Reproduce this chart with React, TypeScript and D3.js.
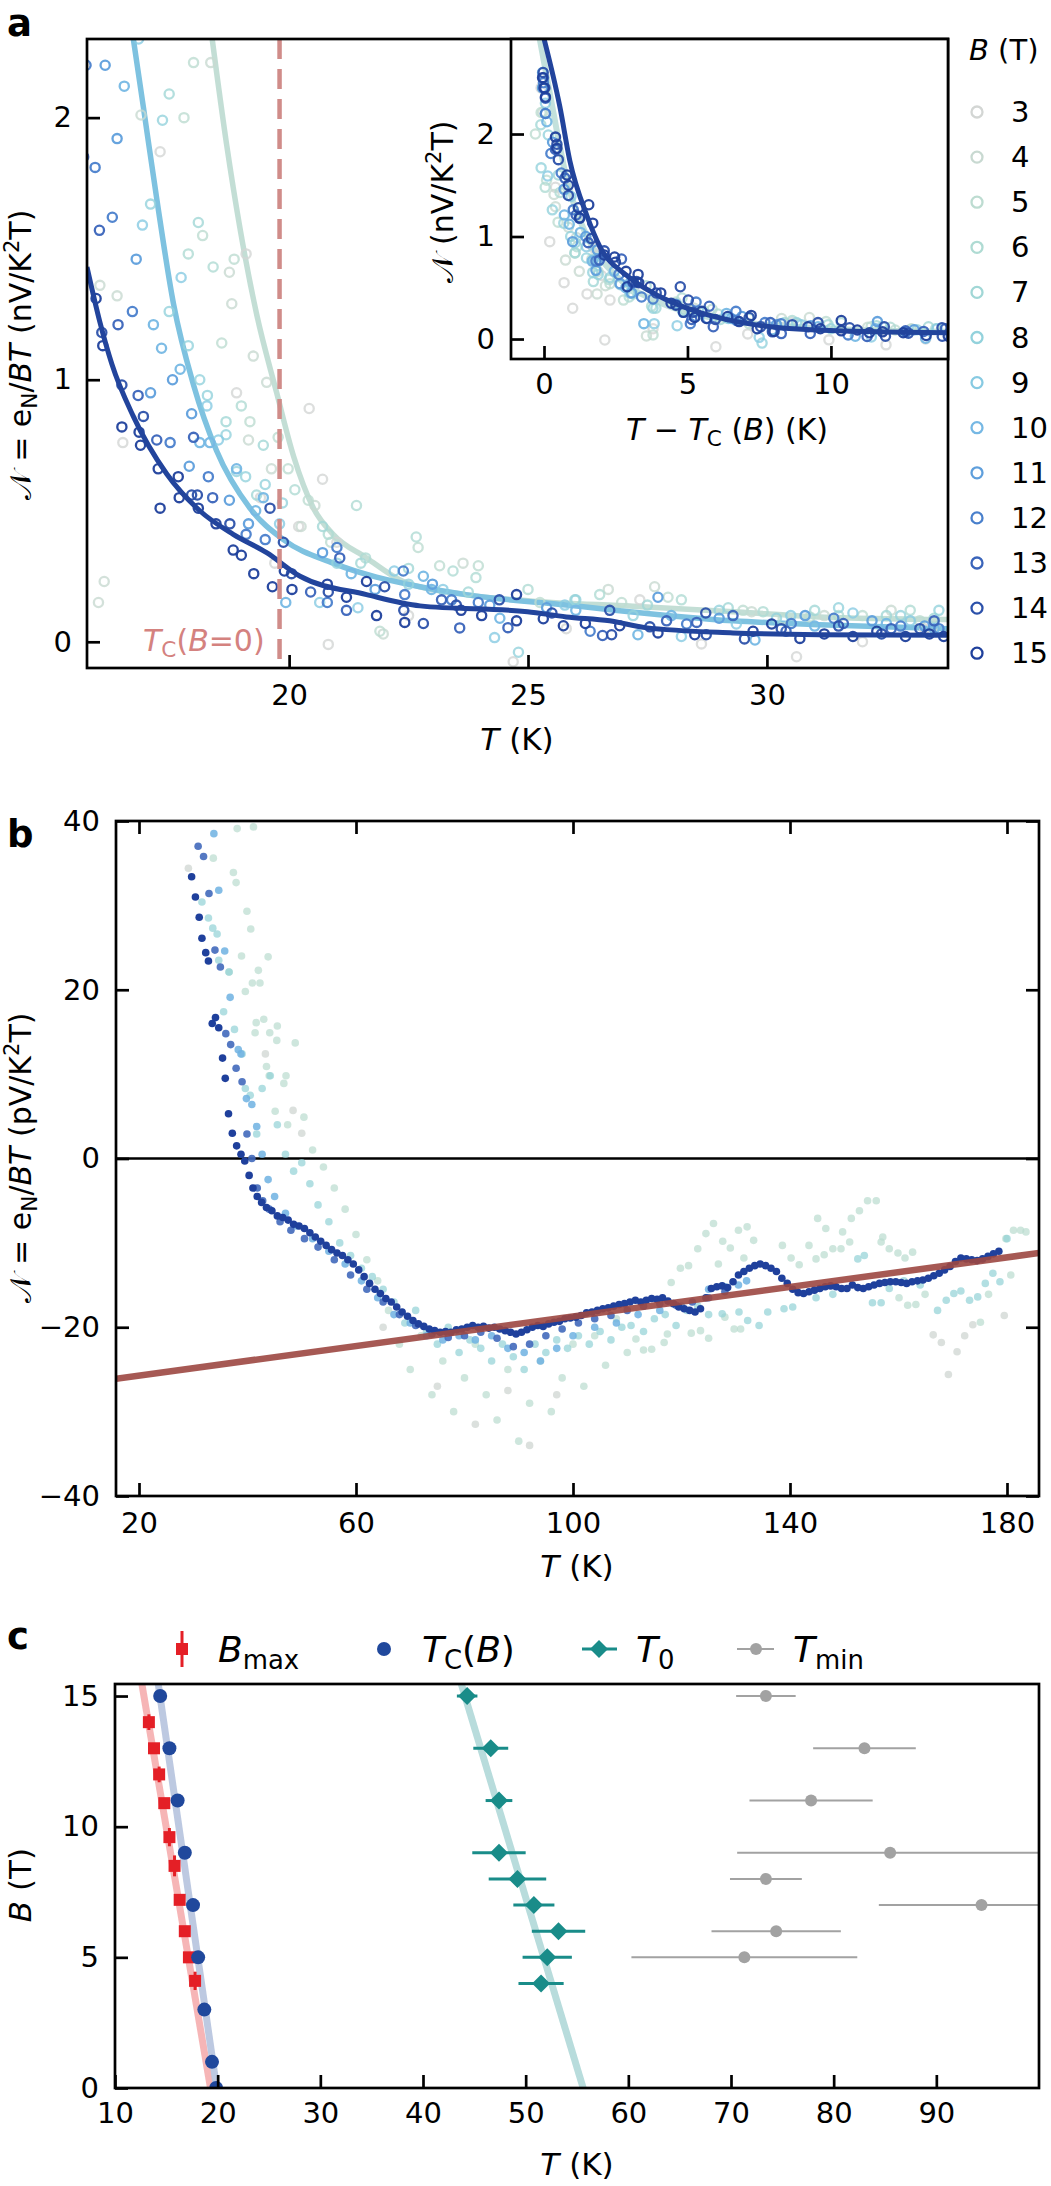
import React, { useEffect, useRef } from "react";
import * as d3 from "d3";

const FONT = "DejaVu Sans, sans-serif";

// ---------- panel a : field values, colours, Tc(B) ----------
const fields = [3, 4, 5, 6, 7, 8, 9, 10, 11, 12, 13, 14, 15];
const fieldColors = [
  "#d3d6d4", "#c8d9d1", "#bddcd1", "#afdbd3", "#a1d7d6", "#93d2dc", "#87cae2",
  "#76b8e4", "#5f9fdc", "#4a80cc", "#3a64ba", "#2c51aa", "#1f409c",
];
const tcByField = [18.7, 18.4, 18.1, 17.85, 17.6, 17.2, 16.8, 16.45, 16.1, 15.7, 15.3, 14.85, 14.4];

type P = [number, number];

const aF3: P[] = [[16.52,0.76],[17.3,1.87],[18.6,2.45],[18.9,0.95],[19.1,1.48],[19.4,0.55],[19.7,0.3],[20.2,0.44],[20.42,0.89],[20.7,0.62],[20.82,-0.01],[21.0,0.38],[22.5,0.1],[24.69,-0.076],[25.8,0.05],[27.34,0.16],[28.63,-0.008],[30.62,-0.057],[32.0,0.0],[33.3,0.05]];
const aF4: P[] = [[16.01,0.15],[16.04,1.36],[16.13,0.23],[16.4,1.32],[16.9,2.01],[18.36,2.21],[18.75,1.41],[18.8,1.29],[19.15,0.77],[19.25,1.09],[19.53,0.99],[19.63,0.66],[20.25,0.44],[20.54,0.52],[21.97,0.03],[23.64,0.3],[26.68,0.2],[27.65,0.21],[29.68,0.115],[31.2,0.1],[32.6,0.12],[33.5,0.06]];
const aF5: P[] = [[17.8,2.0],[18.0,2.21],[18.19,1.55],[18.59,1.14],[18.85,1.46],[19.18,0.84],[19.77,0.78],[19.98,0.66],[20.4,0.54],[20.87,0.38],[21.9,0.04],[22.7,0.36],[23.15,0.29],[23.96,0.29],[25.25,0.15],[26.96,0.15],[27.93,0.17],[29.5,0.12],[30.34,0.088],[30.9,0.095],[32.0,0.1],[33.2,0.08]];
const aF6: P[] = [[17.89,1.48],[18.41,1.43],[19.0,0.9],[20.12,0.58],[20.82,0.41],[21.41,0.52],[21.6,0.32],[22.66,0.4],[23.43,0.27],[23.91,0.245],[25.0,0.2],[26.5,0.18],[28.21,0.16],[29.92,0.115],[31.5,0.1],[33.0,0.12]];
const aF7: P[] = [[17.49,2.09],[18.1,1.6],[18.68,0.84],[19.32,0.56],[19.46,0.75],[20.7,0.44],[21.5,0.3],[22.5,0.28],[23.75,0.19],[25.98,0.16],[27.5,0.14],[29.19,0.13],[31.0,0.12],[32.5,0.1],[33.5,0.09]];
const aF8: P[] = [[17.1,1.67],[17.35,1.99],[17.49,1.26],[17.89,1.13],[18.13,1.0],[18.29,0.94],[18.68,0.79],[18.9,0.65],[19.09,0.63],[19.5,0.6],[19.86,0.53],[21.0,0.3],[22.5,0.22],[24.8,-0.04],[26.0,0.16],[27.2,0.1],[29.0,0.12],[30.2,0.09],[31.5,0.13],[32.8,0.1],[33.6,0.12]];
const aF9: P[] = [[16.85,2.3],[16.93,1.59],[17.74,1.39],[18.28,0.9],[18.52,0.77],[19.8,0.45],[20.64,0.15],[21.44,0.13],[22.2,0.27],[23.22,0.2],[24.3,0.016],[25.77,0.14],[28.21,0.02],[29.36,0.068],[30.5,0.1],[31.8,0.11],[33.0,0.08]];
const aF10: P[] = [[16.4,2.6],[16.55,2.12],[17.16,1.21],[17.33,1.12],[17.72,1.04],[18.13,0.76],[18.34,0.76],[18.9,0.66],[19.3,0.5],[19.46,0.55],[19.93,0.15],[21.3,0.26],[22.81,0.25],[22.98,0.2],[24.41,0.09],[26.0,0.12],[27.3,0.027],[28.0,0.1],[29.75,0.007],[31.0,0.06],[32.5,0.07],[33.5,0.05]];
const aF11: P[] = [[16.05,2.45],[16.15,2.2],[16.4,1.92],[16.8,1.46],[17.1,0.95],[17.56,1.0],[17.91,0.67],[17.96,0.87],[18.75,0.54],[19.15,0.45],[20.7,0.34],[21.8,0.2],[23.0,0.22],[24.2,0.14],[25.39,0.13],[27.72,0.17],[29.0,0.09],[30.8,0.1],[32.2,0.08],[33.3,0.06]];
const aF12: P[] = [[15.68,2.5],[15.75,2.2],[15.94,1.81],[16.3,1.62],[16.72,1.26],[17.51,0.76],[18.31,0.63],[19.1,0.41],[19.5,0.39],[20.8,0.15],[21.0,0.36],[22.39,0.27],[22.42,0.18],[23.4,0.16],[23.96,0.15],[26.3,0.04],[28.32,0.068],[30.51,0.07],[31.4,0.09],[32.8,0.06],[33.6,0.05]];
const aF13: P[] = [[15.28,2.55],[15.35,2.35],[15.7,1.85],[16.03,1.57],[16.42,1.21],[16.84,0.94],[17.23,0.77],[18.0,0.78],[18.4,0.55],[20.45,0.19],[21.06,0.32],[21.2,0.12],[23.19,0.16],[23.57,0.053],[24.58,0.054],[26.56,0.024],[27.9,0.08],[28.53,0.074],[29.29,0.1],[30.4,0.04],[31.6,0.07],[32.6,0.05],[33.5,0.08]];
const aF14: P[] = [[14.82,2.6],[14.88,2.45],[15.3,1.9],[15.35,1.75],[15.7,1.4],[16.08,1.18],[16.5,0.98],[16.95,0.86],[17.96,0.56],[18.08,0.56],[18.76,0.45],[19.6,0.51],[19.88,0.38],[20.05,0.26],[20.82,0.19],[22.0,0.21],[22.4,0.12],[22.81,0.07],[23.5,0.14],[24.4,0.16],[25.5,0.11],[26.71,0.12],[26.75,0.027],[27.55,0.057],[28.72,0.11],[28.73,0.027],[29.53,0.011],[30.3,0.05],[31.5,0.06],[32.4,0.03],[33.2,0.05]];
const aF15: P[] = [[14.35,2.55],[14.4,2.45],[14.45,2.36],[14.8,1.97],[14.85,1.86],[15.2,1.6],[15.25,1.5],[15.6,1.28],[15.65,1.18],[15.96,1.31],[16.1,1.13],[16.5,0.82],[16.86,0.8],[16.89,0.75],[17.26,0.66],[17.3,0.51],[17.68,0.63],[17.7,0.55],[18.1,0.51],[18.47,0.45],[18.83,0.35],[19.0,0.33],[19.26,0.26],[19.65,0.21],[19.9,0.27],[20.06,0.2],[20.8,0.22],[21.2,0.17],[21.62,0.23],[21.83,0.1],[22.42,0.074],[23.6,0.12],[24.03,0.1],[24.76,0.08],[24.76,0.18],[25.32,0.088],[25.74,0.061],[26.2,0.07],[26.92,0.061],[27.72,0.034],[28.49,0.027],[29.71,0.04],[30.1,0.068],[30.69,0.013],[31.2,0.03],[31.8,0.02],[32.3,0.04],[32.9,0.02],[33.4,0.03],[33.7,0.02]];
const aSeries = [aF3, aF4, aF5, aF6, aF7, aF8, aF9, aF10, aF11, aF12, aF13, aF14, aF15];

// fitted curves, panel a
const aFit5: P[] = [[18.39,2.3],[18.69,1.9],[18.97,1.58],[19.32,1.25],[19.74,0.95],[20.09,0.71],[20.51,0.51],[20.92,0.41],[21.62,0.32],[22.39,0.23],[23.7,0.18],[25.1,0.155],[27.2,0.136],[29.3,0.115],[31.1,0.095],[33.8,0.085]];
const aFit10: P[] = [[16.74,2.3],[16.95,2.04],[17.23,1.69],[17.58,1.29],[18.0,0.98],[18.48,0.73],[19.18,0.51],[19.88,0.39],[20.92,0.3],[22.74,0.21],[23.7,0.18],[25.8,0.14],[29.3,0.08],[31.1,0.065],[33.8,0.05]];
const aFit15: P[] = [[15.77,1.43],[16.04,1.22],[16.29,1.06],[16.74,0.86],[17.44,0.64],[18.13,0.5],[18.83,0.41],[19.53,0.34],[20.23,0.25],[21.62,0.18],[22.74,0.137],[24.99,0.115],[25.8,0.095],[26.71,0.08],[27.45,0.054],[29.29,0.034],[31.1,0.027],[33.8,0.025]];
const insetFit15: P[] = [[0.0,2.93],[0.55,2.27],[0.9,1.74],[1.5,1.2],[1.95,0.9],[2.88,0.62],[4.0,0.42],[5.2,0.28],[6.9,0.16],[9.3,0.09],[14.1,0.06]];
const insetFitPale: P[] = [[-0.15,2.93],[0.3,2.25],[0.8,1.55],[1.5,1.0],[2.5,0.62],[4.0,0.36],[6.0,0.2],[10.0,0.1],[14.1,0.07]];
const tcZeroField = 19.8;

// ---------- panel b ----------
const b3: P[] = [[29.1,34.4],[43.3,12.4],[48.4,5.7],[50.0,3.0],[65.0,-20.0],[75.0,-27.0],[82.0,-31.5],[88.0,-27.5],[92.0,-34.0],[97.0,-28.0],[166.4,-20.9],[167.9,-21.8],[169.2,-25.6],[170.8,-22.9],[172.2,-21.0],[173.7,-19.7],[179.5,-18.6]];
const b6: P[] = [[33.7,35.6],[37.4,33.9],[37.9,32.7],[38.1,39.1],[39.9,29.3],[40.6,27.2],[38.9,24.0],[43.8,23.9],[36.6,22.1],[42.0,22.3],[39.6,19.8],[40.9,20.8],[42.3,20.8],[41.6,16.1],[43.0,16.5],[45.5,15.7],[48.8,13.7],[41.4,14.9],[44.1,14.9],[45.4,14.0],[43.5,10.9],[44.0,9.8],[47.1,9.8],[46.7,8.9],[45.1,5.6],[50.4,4.9],[47.4,4.0],[41.1,39.3],[52.0,1.0],[54.0,-1.0],[56.0,-3.5],[58.0,-6.0],[60.0,-9.0],[62.0,-12.0],[64.0,-14.5],[66.0,-18.0],[68.0,-22.0],[70.0,-25.0],[72.0,-21.0],[74.0,-28.0],[76.0,-24.0],[78.0,-30.0],[80.0,-26.0],[82.0,-22.0],[84.0,-28.0],[86.0,-31.0],[88.0,-25.0],[90.0,-33.5],[92.0,-29.0],[94.0,-24.0],[96.0,-30.0],[98.0,-26.0],[100.0,-22.0],[102.0,-27.0],[104.0,-21.0],[106.0,-24.5],[108.0,-19.0],[110.0,-23.0],[111.6,-21.4],[113.0,-22.7],[114.5,-22.6],[116.8,-21.8],[117.4,-20.8],[118.1,-14.7],[119.8,-13.0],[121.3,-12.7],[121.8,-20.7],[123.0,-10.7],[123.5,-20.4],[124.5,-8.9],[125.0,-21.3],[125.9,-7.7],[126.8,-12.5],[127.6,-9.8],[128.0,-18.8],[129.0,-10.6],[129.7,-20.2],[130.5,-8.5],[130.9,-20.2],[131.5,-11.8],[132.1,-8.1],[133.3,-9.7],[138.6,-10.3],[140.2,-11.8],[141.7,-12.6],[143.5,-10.3],[144.8,-11.9],[145.1,-7.1],[146.3,-11.4],[146.6,-8.3],[147.9,-10.7],[149.4,-10.7],[149.7,-8.7],[151.0,-9.9],[151.3,-7.1],[152.8,-6.2],[154.3,-5.0],[155.9,-5.0],[156.8,-9.9],[157.1,-9.3],[158.3,-10.7],[159.9,-11.2],[160.1,-16.5],[161.2,-11.8],[161.7,-17.4],[162.6,-11.1],[163.2,-17.3],[164.9,-16.1],[175.1,-19.4],[176.6,-16.1],[179.8,-9.5],[180.7,-13.8],[181.2,-8.5],[182.5,-8.5],[183.5,-8.7]];
const b8: P[] = [[31.6,30.4],[32.8,28.5],[33.6,27.3],[34.4,26.6],[34.7,23.5],[35.6,17.4],[36.6,22.1],[37.6,15.3],[39.0,12.4],[39.6,8.3],[40.5,7.5],[41.7,2.9],[42.7,8.3],[44.2,9.8],[45.5,4.0],[47.0,0.5],[48.5,-1.5],[50.0,-0.5],[51.5,-3.0],[53.0,-5.5],[55.0,-7.5],[57.0,-10.0],[59.0,-11.5],[61.0,-13.0],[63.0,-14.0],[65.0,-15.5],[67.0,-17.0],[69.0,-19.5],[71.0,-18.0],[73.0,-20.5],[75.0,-22.0],[77.0,-20.0],[79.0,-23.0],[81.0,-21.5],[83.0,-22.5],[85.0,-24.0],[87.0,-22.0],[89.0,-23.5],[91.0,-25.0],[93.0,-22.0],[95.0,-23.0],[97.0,-21.5],[99.0,-22.5],[101.0,-21.0],[103.0,-22.0],[105.0,-20.5],[107.0,-21.5],[109.0,-20.0],[110.7,-19.8],[113.0,-20.5],[115.0,-19.0],[117.0,-18.5],[119.0,-19.8],[121.0,-18.0],[123.0,-17.5],[125.0,-18.5],[127.5,-18.4],[130.6,-18.2],[132.2,-19.2],[134.3,-19.8],[135.9,-18.2],[138.9,-17.8],[140.5,-17.6],[144.8,-16.5],[147.9,-16.1],[152.5,-11.9],[153.7,-11.5],[155.2,-17.1],[156.8,-17.1],[158.3,-15.4],[161.0,-14.5],[164.0,-15.0],[167.2,-18.0],[168.8,-16.8],[170.2,-16.0],[171.5,-15.7],[173.1,-16.8],[174.6,-16.4],[176.0,-14.8],[177.4,-13.6],[178.7,-14.6],[180.0,-9.5]];
const b10: P[] = [[33.8,38.5],[34.7,31.8],[35.8,24.6],[36.8,19.1],[38.3,12.9],[38.8,12.4],[39.8,7.1],[40.8,6.4],[41.7,3.8],[42.7,0.5],[43.8,-2.5],[45.0,-4.5],[47.0,-6.5],[49.0,-8.0],[52.0,-9.5],[55.0,-11.0],[58.0,-12.5],[61.0,-14.5],[64.0,-16.5],[67.0,-18.5],[70.0,-19.5],[73.0,-21.0],[76.0,-21.5],[79.0,-21.0],[82.0,-21.5],[85.0,-21.0],[88.0,-22.5],[91.0,-23.0],[94.0,-24.0],[97.0,-22.5],[100.0,-21.0],[104.0,-20.0],[108.0,-19.5],[112.0,-18.5],[116.0,-18.0],[120.0,-17.5],[125.0,-15.5],[128.0,-15.2],[130.5,-15.0],[132.0,-14.5]];
const b13: P[] = [[30.9,37.0],[31.9,35.8],[32.9,31.4],[34.0,24.7],[35.0,22.7],[36.0,14.8],[36.9,13.5],[37.9,10.7],[39.0,9.1],[39.9,2.9],[40.8,0.0],[41.8,-3.5],[42.8,-5.0],[44.0,-6.0],[46.0,-7.5],[48.0,-8.5],[50.5,-9.5],[53.0,-10.5],[56.0,-12.0],[59.0,-13.8],[62.0,-15.5],[65.0,-17.0],[68.0,-18.5],[71.0,-19.8],[74.0,-20.8],[77.0,-21.2],[80.0,-21.0],[83.0,-20.6],[86.0,-21.3],[89.0,-22.3],[92.0,-22.0],[95.0,-21.0],[98.0,-20.2],[101.0,-19.5],[104.0,-19.0],[107.0,-18.6],[110.0,-18.0],[113.0,-17.5],[116.0,-17.2],[119.0,-17.4],[122.0,-17.0],[125.0,-16.5],[128.0,-15.8]];
const b15: P[] = [[29.7,33.4],[30.4,31.0],[31.1,28.6],[31.6,26.1],[32.3,24.4],[32.8,23.4],[33.5,16.0],[34.1,16.7],[34.7,15.5],[35.4,11.9],[35.9,9.5],[36.5,5.3],[37.2,3.0],[38.0,1.5],[38.8,0.5],[39.5,-0.3],[40.3,-2.0],[41.0,-3.5],[41.8,-4.5],[42.6,-5.2],[43.5,-5.8],[44.5,-6.2],[45.5,-6.8],[46.5,-7.0],[47.5,-7.3],[48.5,-7.8],[49.5,-8.0],[50.5,-8.3],[51.5,-8.8],[52.5,-9.3],[53.5,-9.8],[54.5,-10.3],[55.5,-10.8],[56.5,-11.2],[57.5,-11.5],[58.5,-12.0],[59.5,-12.5],[60.5,-13.2],[61.5,-14.0],[62.5,-14.8],[63.5,-15.5],[64.5,-16.0],[65.5,-16.6],[66.5,-17.0],[67.5,-17.6],[68.5,-18.2],[69.5,-18.7],[70.5,-19.2],[71.5,-19.6],[72.5,-19.9],[73.5,-20.2],[74.5,-20.4],[75.5,-20.6],[76.5,-20.5],[77.5,-20.6],[78.5,-20.3],[79.5,-20.2],[80.5,-20.0],[81.5,-19.8],[82.5,-20.0],[83.5,-19.9],[84.5,-20.1],[85.5,-20.0],[86.5,-20.2],[87.5,-20.4],[88.5,-20.6],[89.5,-20.8],[90.5,-20.6],[91.5,-20.3],[92.5,-20.0],[93.5,-19.8],[94.5,-19.9],[95.5,-19.6],[96.5,-19.4],[97.5,-19.3],[98.5,-19.0],[99.5,-18.9],[100.5,-18.8],[101.5,-18.6],[102.5,-18.3],[103.5,-18.2],[104.5,-18.0],[105.5,-17.8],[106.5,-17.7],[107.5,-17.5],[108.5,-17.3],[109.5,-17.2],[110.5,-17.0],[111.5,-16.8],[112.5,-17.0],[113.5,-16.8],[114.5,-16.6],[115.5,-16.7],[116.5,-16.5],[117.5,-16.9],[118.5,-17.2],[119.5,-17.6],[120.5,-17.8],[121.5,-18.0],[122.5,-18.2],[123.5,-17.8],[124.5,-16.5],[125.5,-15.4],[126.5,-15.2],[127.5,-15.1],[128.5,-15.3],[129.5,-14.6],[130.5,-13.8],[131.5,-13.4],[132.5,-13.0],[133.5,-12.7],[134.5,-12.5],[135.5,-12.7],[136.5,-13.0],[137.5,-13.4],[138.5,-14.2],[139.5,-14.8],[140.5,-15.5],[141.5,-15.9],[142.5,-16.0],[143.5,-15.8],[144.5,-15.6],[145.5,-15.4],[146.5,-15.2],[147.5,-15.1],[148.5,-15.2],[149.5,-15.4],[150.5,-15.4],[151.5,-15.0],[152.5,-15.3],[153.5,-15.4],[154.5,-15.2],[155.5,-15.0],[156.5,-14.8],[157.5,-14.7],[158.5,-14.6],[159.5,-14.6],[160.5,-14.7],[161.5,-14.8],[162.5,-14.6],[163.5,-14.5],[164.5,-14.4],[165.5,-14.2],[166.5,-13.9],[167.5,-13.6],[168.5,-13.2],[169.5,-12.8],[170.5,-12.2],[171.5,-11.8],[172.5,-11.9],[173.5,-12.0],[174.5,-12.1],[175.5,-11.9],[176.5,-11.6],[177.5,-11.3],[178.5,-11.0]];
const bSeries = [b3, b6, b8, b10, b13, b15];
const bColors = ["#cfd5d1", "#b9dccf", "#92d1d6", "#6fb2e2", "#4169bb", "#1f409c"];
const bOpacity = [0.75, 0.7, 0.7, 0.85, 0.9, 1];
const bBackground: P[] = [[15.76, -26.1], [185.9, -11.2]];

// ---------- panel c ----------
const bmaxT = [13.3, 13.8, 14.3, 14.8, 15.3, 15.8, 16.3, 16.8, 17.2, 17.8];
const bmaxB = [14, 13, 12, 10.9, 9.6, 8.5, 7.2, 6, 5, 4.1];
const bmaxErr = [0.3, 0.1, 0.3, 0.15, 0.35, 0.4, 0.1, 0.1, 0.1, 0.35];
const tcT = [14.4, 15.3, 16.1, 16.8, 17.6, 18.1, 18.7, 19.45, 19.85];
const tcB = [15, 13, 11, 9, 7, 5, 3, 1, 0];
const t0T = [44.3, 46.6, 47.4, 47.4, 49.2, 50.8, 53.2, 52.1, 51.5];
const t0B = [15, 13, 11, 9, 8, 7, 6, 5, 4];
const t0Err = [1.0, 1.7, 1.3, 2.6, 2.8, 2.0, 2.6, 2.4, 2.2];
const tminT = [73.4, 83.0, 77.8, 85.5, 73.4, 94.4, 74.4, 71.3];
const tminB = [15, 13, 11, 9, 8, 7, 6, 5];
const tminErr = [2.9, 5.0, 6.0, 14.9, 3.5, 10.0, 6.3, 11.0];
const bmaxFit: P[] = [[12.6, 15.5], [19.3, 0]];
const tcFit: P[] = [[14.2, 15.5], [19.9, 0]];
const t0Fit: P[] = [[43.7, 15.5], [55.6, 0]];

// scales
const ax = d3.scaleLinear().domain([15.77, 33.79]).range([87, 948]);
const ay = d3.scaleLinear().domain([-0.1, 2.3]).range([668, 39]);
const ix = d3.scaleLinear().domain([-1.15, 14.08]).range([511, 948]);
const iy = d3.scaleLinear().domain([-0.195, 2.927]).range([359, 39]);
const bx = d3.scaleLinear().domain([15.76, 185.9]).range([116, 1039]);
const by = d3.scaleLinear().domain([-40, 40]).range([1496, 821]);
const cx = d3.scaleLinear().domain([10, 100]).range([115, 1039]);
const cy = d3.scaleLinear().domain([0, 15.46]).range([2088, 1684]);

const RED = "#e41f26";
const BLUE = "#20489c";
const TEAL = "#198c89";
const GREY = "#a2a2a2";

const Sub = ({ children }: { children: React.ReactNode }) => (
  <tspan baselineShift="-25%" fontSize="72%">{children}</tspan>
);
const It = ({ children }: { children: React.ReactNode }) => (
  <tspan fontStyle="italic">{children}</tspan>
);

export default function App() {
  const svgRef = useRef<SVGSVGElement>(null);

  useEffect(() => {
    const svg = d3.select(svgRef.current);
    const style = (g: any, labels = true) => {
      g.select(".domain").remove();
      g.attr("font-size", null).attr("font-family", null);
      g.selectAll("line").attr("stroke", "#000").attr("stroke-width", 2.7);
      g.selectAll("text").attr("font-size", 29).attr("font-family", FONT).attr("fill", "#000");
      if (!labels) g.selectAll("text").remove();
    };
    const fmt = d3.format("d");
    const mk = (axis: any, ticks: number[], pad = 16) =>
      axis.tickValues(ticks).tickSizeInner(-13).tickSizeOuter(0).tickPadding(pad).tickFormat(fmt);

    svg.select(".a-x").call(mk(d3.axisBottom(ax), [20, 25, 30])).call(style);
    svg.select(".a-y").call(mk(d3.axisLeft(ay), [0, 1, 2], 15)).call(style);
    svg.select(".i-x").call(mk(d3.axisBottom(ix), [0, 5, 10], 14)).call(style);
    svg.select(".i-y").call(mk(d3.axisLeft(iy), [0, 1, 2], 16)).call(style);
    svg.select(".b-x").call(mk(d3.axisBottom(bx), [20, 60, 100, 140, 180])).call(style);
    svg.select(".b-xt").call(mk(d3.axisTop(bx), [20, 60, 100, 140, 180])).call(style, false);
    svg.select(".b-y").call(mk(d3.axisLeft(by), [-40, -20, 0, 20, 40])).call(style);
    svg.select(".b-yr").call(mk(d3.axisRight(by), [-40, -20, 0, 20, 40])).call(style, false);
    svg.select(".c-x").call(mk(d3.axisBottom(cx), [10, 20, 30, 40, 50, 60, 70, 80, 90], 14)).call(style);
    svg.select(".c-y").call(mk(d3.axisLeft(cy), [0, 5, 10, 15])).call(style);
  }, []);

  const lineA = d3.line<P>().x((d) => ax(d[0])).y((d) => ay(d[1])).curve(d3.curveMonotoneX);
  const lineI = d3.line<P>().x((d) => ix(d[0])).y((d) => iy(d[1])).curve(d3.curveMonotoneX);
  const lineB = d3.line<P>().x((d) => bx(d[0])).y((d) => by(d[1]));
  const lineC = d3.line<P>().x((d) => cx(d[0])).y((d) => cy(d[1]));

  const [aX0, aX1] = ax.range();
  const [aY0, aY1] = ay.range();
  const [iX0, iX1] = ix.range();
  const [iY0, iY1] = iy.range();
  const [bX0, bX1] = bx.range();
  const [bY0, bY1] = by.range();
  const [cX0, cX1] = cx.range();
  const [cY0, cY1] = cy.range();

  return (
    <svg
      ref={svgRef}
      width={1051}
      height={2186}
      style={{ position: "absolute", left: 0, top: 0, background: "#fff" }}
      fontFamily={FONT}
    >
      <defs>
        <clipPath id="clipA"><rect x={aX0} y={aY1} width={aX1 - aX0} height={aY0 - aY1} /></clipPath>
        <clipPath id="clipI"><rect x={iX0} y={iY1} width={iX1 - iX0} height={iY0 - iY1} /></clipPath>
        <clipPath id="clipB"><rect x={bX0} y={bY1} width={bX1 - bX0} height={bY0 - bY1} /></clipPath>
        <clipPath id="clipC"><rect x={cX0} y={cY1} width={cX1 - cX0} height={cY0 - cY1} /></clipPath>
      </defs>

      {/* ================= panel a ================= */}
      <text x={7} y={36} fontSize={37} fontWeight="bold">a</text>
      <g clipPath="url(#clipA)">
        <path d={lineA(aFit5) ?? ""} fill="none" stroke="#b4d6cb" strokeOpacity={0.8} strokeWidth={5.5} />
        <path d={lineA(aFit10) ?? ""} fill="none" stroke="#7ec2e0" strokeWidth={5.5} />
        {aSeries.map((s, k) => (
          <g key={k}>
            {s.map((d, j) => (
              <circle key={j} cx={ax(d[0])} cy={ay(d[1])} r={4.6} fill="none"
                stroke={fieldColors[k]} strokeWidth={2.3} strokeOpacity={k < 7 ? 0.8 : 0.95} />
            ))}
          </g>
        ))}
        <path d={lineA(aFit15) ?? ""} fill="none" stroke="#22449c" strokeWidth={5} />
        <line x1={ax(tcZeroField)} x2={ax(tcZeroField)} y1={aY1} y2={aY0}
          stroke="#d08c89" strokeWidth={4.5} strokeDasharray="20 10" />
      </g>
      <text x={143} y={651} fontSize={30} fill="#d4827f">
        <It>T</It><Sub>C</Sub>(<It>B</It>=0)
      </text>
      <rect x={aX0} y={aY1} width={aX1 - aX0} height={aY0 - aY1} fill="none" stroke="#000" strokeWidth={2.7} />
      <g className="a-x" transform={`translate(0,${aY0})`} />
      <g className="a-y" transform={`translate(${aX0},0)`} />
      <text transform="translate(31,355) rotate(-90)" textAnchor="middle" fontSize={30}>
        {"𝒩 = e"}<Sub>N</Sub>{"/"}<It>BT</It>{" (nV/K"}<tspan baselineShift="super" fontSize="70%">2</tspan>{"T)"}
      </text>
      <text x={517} y={750} textAnchor="middle" fontSize={31}>
        <It>T</It>{" (K)"}
      </text>

      {/* inset */}
      <rect x={iX0} y={iY1} width={iX1 - iX0} height={iY0 - iY1} fill="#fff" />
      <g clipPath="url(#clipI)">
        <path d={lineI(insetFitPale) ?? ""} fill="none" stroke="#b4d9d3" strokeOpacity={0.8} strokeWidth={6} />
        {aSeries.map((s, k) => (
          <g key={k}>
            {s.map((d, j) => (
              <circle key={j} cx={ix(d[0] - tcByField[k])} cy={iy(d[1])} r={4.6} fill="none"
                stroke={fieldColors[k]} strokeWidth={2.3} strokeOpacity={k < 7 ? 0.8 : 0.95} />
            ))}
          </g>
        ))}
        <path d={lineI(insetFit15) ?? ""} fill="none" stroke="#22449c" strokeWidth={5} />
      </g>
      <rect x={iX0} y={iY1} width={iX1 - iX0} height={iY0 - iY1} fill="none" stroke="#000" strokeWidth={2.7} />
      <g className="i-x" transform={`translate(0,${iY0})`} />
      <g className="i-y" transform={`translate(${iX0},0)`} />
      <text transform="translate(453,202) rotate(-90)" textAnchor="middle" fontSize={30}>
        {"𝒩 (nV/K"}<tspan baselineShift="super" fontSize="70%">2</tspan>{"T)"}
      </text>
      <text x={727} y={440} textAnchor="middle" fontSize={30}>
        <It>T</It>{" − "}<It>T</It><Sub>C</Sub>{" ("}<It>B</It>{") (K)"}
      </text>

      {/* legend a */}
      <text x={969} y={60} fontSize={29}>
        <It>B</It>{" (T)"}
      </text>
      {fields.map((f, k) => (
        <g key={f} transform={`translate(0,${112 + k * 45.1})`}>
          <circle cx={977} cy={0} r={5.5} fill="none" stroke={fieldColors[k]} strokeWidth={2.3} />
          <text x={1011} y={10} fontSize={29}>{f}</text>
        </g>
      ))}

      {/* ================= panel b ================= */}
      <text x={7} y={847} fontSize={37} fontWeight="bold">b</text>
      <g clipPath="url(#clipB)">
        <line x1={bX0} x2={bX1} y1={by(0)} y2={by(0)} stroke="#000" strokeWidth={2.7} />
        {bSeries.map((s, k) => (
          <g key={k}>
            {s.map((d, j) => (
              <circle key={j} cx={bx(d[0])} cy={by(d[1])} r={3.8} fill={bColors[k]} fillOpacity={bOpacity[k]} />
            ))}
          </g>
        ))}
        <path d={lineB(bBackground) ?? ""} fill="none" stroke="#9c4741" strokeOpacity={0.9} strokeWidth={6.5} />
      </g>
      <rect x={bX0} y={bY1} width={bX1 - bX0} height={bY0 - bY1} fill="none" stroke="#000" strokeWidth={2.7} />
      <g className="b-x" transform={`translate(0,${bY0})`} />
      <g className="b-xt" transform={`translate(0,${bY1})`} />
      <g className="b-y" transform={`translate(${bX0},0)`} />
      <g className="b-yr" transform={`translate(${bX1},0)`} />
      <text transform="translate(31,1158) rotate(-90)" textAnchor="middle" fontSize={30}>
        {"𝒩 = e"}<Sub>N</Sub>{"/"}<It>BT</It>{" (pV/K"}<tspan baselineShift="super" fontSize="70%">2</tspan>{"T)"}
      </text>
      <text x={577} y={1577} textAnchor="middle" fontSize={31}>
        <It>T</It>{" (K)"}
      </text>

      {/* ================= panel c ================= */}
      <text x={7} y={1649} fontSize={37} fontWeight="bold">c</text>
      <g clipPath="url(#clipC)">
        <path d={lineC(bmaxFit) ?? ""} stroke="#f4a3a4" strokeOpacity={0.8} strokeWidth={7} fill="none" />
        <path d={lineC(tcFit) ?? ""} stroke="#b6c3de" strokeOpacity={0.9} strokeWidth={7} fill="none" />
        <path d={lineC(t0Fit) ?? ""} stroke="#b8dcdc" strokeWidth={7} fill="none" />
        {bmaxT.map((t, i) => (
          <g key={i}>
            <line x1={cx(t)} x2={cx(t)} y1={cy(bmaxB[i] - bmaxErr[i])} y2={cy(bmaxB[i] + bmaxErr[i])} stroke={RED} strokeWidth={3} />
            <rect x={cx(t) - 6} y={cy(bmaxB[i]) - 6} width={12} height={12} fill={RED} />
          </g>
        ))}
        {tcT.map((t, i) => (
          <circle key={i} cx={cx(t)} cy={cy(tcB[i])} r={7} fill={BLUE} />
        ))}
        {t0T.map((t, i) => (
          <g key={i}>
            <line x1={cx(t - t0Err[i])} x2={cx(t + t0Err[i])} y1={cy(t0B[i])} y2={cy(t0B[i])} stroke={TEAL} strokeWidth={3} />
            <path d={`M${cx(t)},${cy(t0B[i]) - 9}L${cx(t) + 9},${cy(t0B[i])}L${cx(t)},${cy(t0B[i]) + 9}L${cx(t) - 9},${cy(t0B[i])}Z`} fill={TEAL} />
          </g>
        ))}
        {tminT.map((t, i) => (
          <g key={i}>
            <line x1={cx(t - tminErr[i])} x2={cx(t + tminErr[i])} y1={cy(tminB[i])} y2={cy(tminB[i])} stroke={GREY} strokeWidth={2} />
            <circle cx={cx(t)} cy={cy(tminB[i])} r={6} fill={GREY} />
          </g>
        ))}
      </g>
      <rect x={cX0} y={cY1} width={cX1 - cX0} height={cY0 - cY1} fill="none" stroke="#000" strokeWidth={2.7} />
      <g className="c-x" transform={`translate(0,${cY0})`} />
      <g className="c-y" transform={`translate(${cX0},0)`} />
      <text transform="translate(31,1885) rotate(-90)" textAnchor="middle" fontSize={31}>
        <It>B</It>{" (T)"}
      </text>
      <text x={577} y={2175} textAnchor="middle" fontSize={31}>
        <It>T</It>{" (K)"}
      </text>

      {/* legend c */}
      <g transform="translate(0,1649)">
        <line x1={182} x2={182} y1={-18} y2={18} stroke={RED} strokeWidth={3} />
        <rect x={176} y={-6} width={12} height={12} fill={RED} />
        <text x={218} y={13} fontSize={36}><It>B</It><Sub>max</Sub></text>
        <circle cx={384} cy={0} r={7} fill={BLUE} />
        <text x={422} y={13} fontSize={36}><It>T</It><Sub>C</Sub>(<It>B</It>)</text>
        <line x1={582} x2={617} y1={0} y2={0} stroke={TEAL} strokeWidth={3} />
        <path d="M599,-9L608,0L599,9L590,0Z" fill={TEAL} />
        <text x={636} y={13} fontSize={36}><It>T</It><Sub>0</Sub></text>
        <line x1={737} x2={774} y1={0} y2={0} stroke={GREY} strokeWidth={2} />
        <circle cx={756} cy={0} r={6} fill={GREY} />
        <text x={793} y={13} fontSize={36}><It>T</It><Sub>min</Sub></text>
      </g>
    </svg>
  );
}
